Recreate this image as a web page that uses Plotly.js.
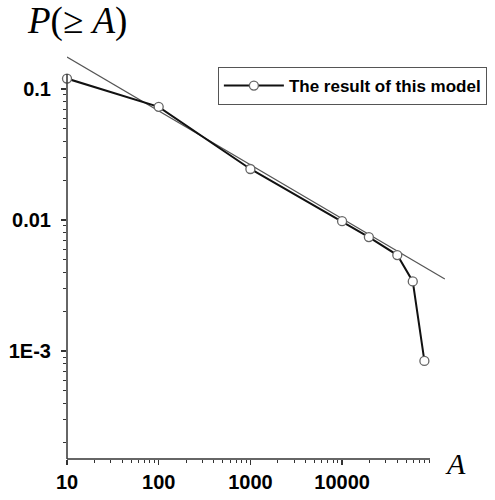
<!DOCTYPE html>
<html>
<head>
<meta charset="utf-8">
<script src="https://cdn.plot.ly/plotly-3.0.1.min.js"></script>
<style>html,body{margin:0;padding:0;background:#fff;}#chart{width:495px;height:500px;}</style>
</head>
<body>
<div id="chart"></div>
<script>
// Model result (A vs cumulative probability P(>=A))
const modelA = [10, 100, 1000, 10000, 19600, 40000, 59000, 79000];
const modelP = [0.12, 0.073, 0.0245, 0.0098, 0.0074, 0.0054, 0.0034, 0.00084];
// Power-law reference line (end points)
const fitA = [10, 132000];
const fitP = [0.175, 0.00355];
// Tick labels
const xTickVals = [10, 100, 1000, 10000];
const xTickText = ['10', '100', '1000', '10000'];
const yTickVals = [0.001, 0.01, 0.1];
const yTickText = ['1E-3', '0.01', '0.1'];
const xMinor = [20,30,40,50,60,70,80,90,200,300,400,500,600,700,800,900,2000,3000,4000,5000,6000,7000,8000,9000,20000,30000,40000,50000,60000,70000,80000,90000];
const yMinor = [0.0002,0.0003,0.0004,0.0005,0.0006,0.0007,0.0008,0.0009,0.002,0.003,0.004,0.005,0.006,0.007,0.008,0.009,0.02,0.03,0.04,0.05,0.06,0.07,0.08,0.09];

const tickFont = {family: 'Liberation Sans, Arial, sans-serif', size: 20, color: '#000', weight: 'bold'};

const traces = [
  {
    x: fitA, y: fitP, mode: 'lines', showlegend: false, hoverinfo: 'skip',
    line: {color: '#555', width: 1.2}
  },
  {
    x: modelA, y: modelP, mode: 'lines+markers', name: 'The result of this model',
    line: {color: '#111', width: 2},
    marker: {symbol: 'circle', size: 9, color: '#fff', line: {color: '#666', width: 1.3}},
    cliponaxis: false
  }
];

const layout = {
  width: 495, height: 500,
  margin: {l: 67, r: 46, t: 52, b: 41, autoexpand: false},
  paper_bgcolor: '#fff', plot_bgcolor: '#fff',
  showlegend: true,
  legend: {
    x: 0.395, y: 0.963, xanchor: 'left', yanchor: 'top',
    itemwidth: 60,
    bordercolor: '#555', borderwidth: 1, bgcolor: '#fff',
    font: {family: 'Liberation Sans, Arial, sans-serif', size: 17, color: '#000', weight: 'bold'}
  },
  xaxis: {
    type: 'log', range: [1, 5.166],
    showgrid: false, zeroline: false, showline: false,
    tickmode: 'array', tickvals: xTickVals, ticktext: xTickText,
    ticks: 'outside', ticklen: 5, tickwidth: 1.2, tickcolor: '#333',
    tickfont: tickFont,
    minor: {tickmode: 'array', tickvals: xMinor, ticks: 'outside', ticklen: 3, tickwidth: 1, tickcolor: '#333', showgrid: false}
  },
  yaxis: {
    type: 'log', range: [-3.824, -0.718],
    showgrid: false, zeroline: false, showline: false,
    tickmode: 'array', tickvals: yTickVals, ticktext: yTickText,
    ticks: 'outside', ticklen: 5, tickwidth: 1.2, tickcolor: '#333',
    ticklabelstandoff: 6,
    tickfont: tickFont,
    minor: {tickmode: 'array', tickvals: yMinor, ticks: 'outside', ticklen: 3, tickwidth: 1, tickcolor: '#333', showgrid: false}
  },
  shapes: [
    {type: 'line', xref: 'x', yref: 'paper', x0: 10, x1: 91000, y0: 0, y1: 0, line: {color: '#333', width: 1.5}},
    {type: 'line', xref: 'paper', yref: 'y', x0: 0, x1: 0, y0: 0.00015, y1: 0.13, line: {color: '#333', width: 1.5}}
  ],
  annotations: [
    {text: '<i>P</i>(≥ <i>A</i>)', xref: 'paper', yref: 'paper', x: -0.11, y: 1.0, xanchor: 'left', yanchor: 'bottom', yshift: 8,
     showarrow: false, font: {family: 'Liberation Serif, Times New Roman, serif', size: 37, color: '#000'}},
    {text: '<i>A</i>', xref: 'paper', yref: 'paper', x: 1.017, y: 0, xanchor: 'center', yanchor: 'middle', yshift: -4,
     showarrow: false, font: {family: 'Liberation Serif, Times New Roman, serif', size: 30, color: '#000'}}
  ]
};

Plotly.newPlot('chart', traces, layout, {displayModeBar: false, staticPlot: true});
</script>
</body>
</html>
